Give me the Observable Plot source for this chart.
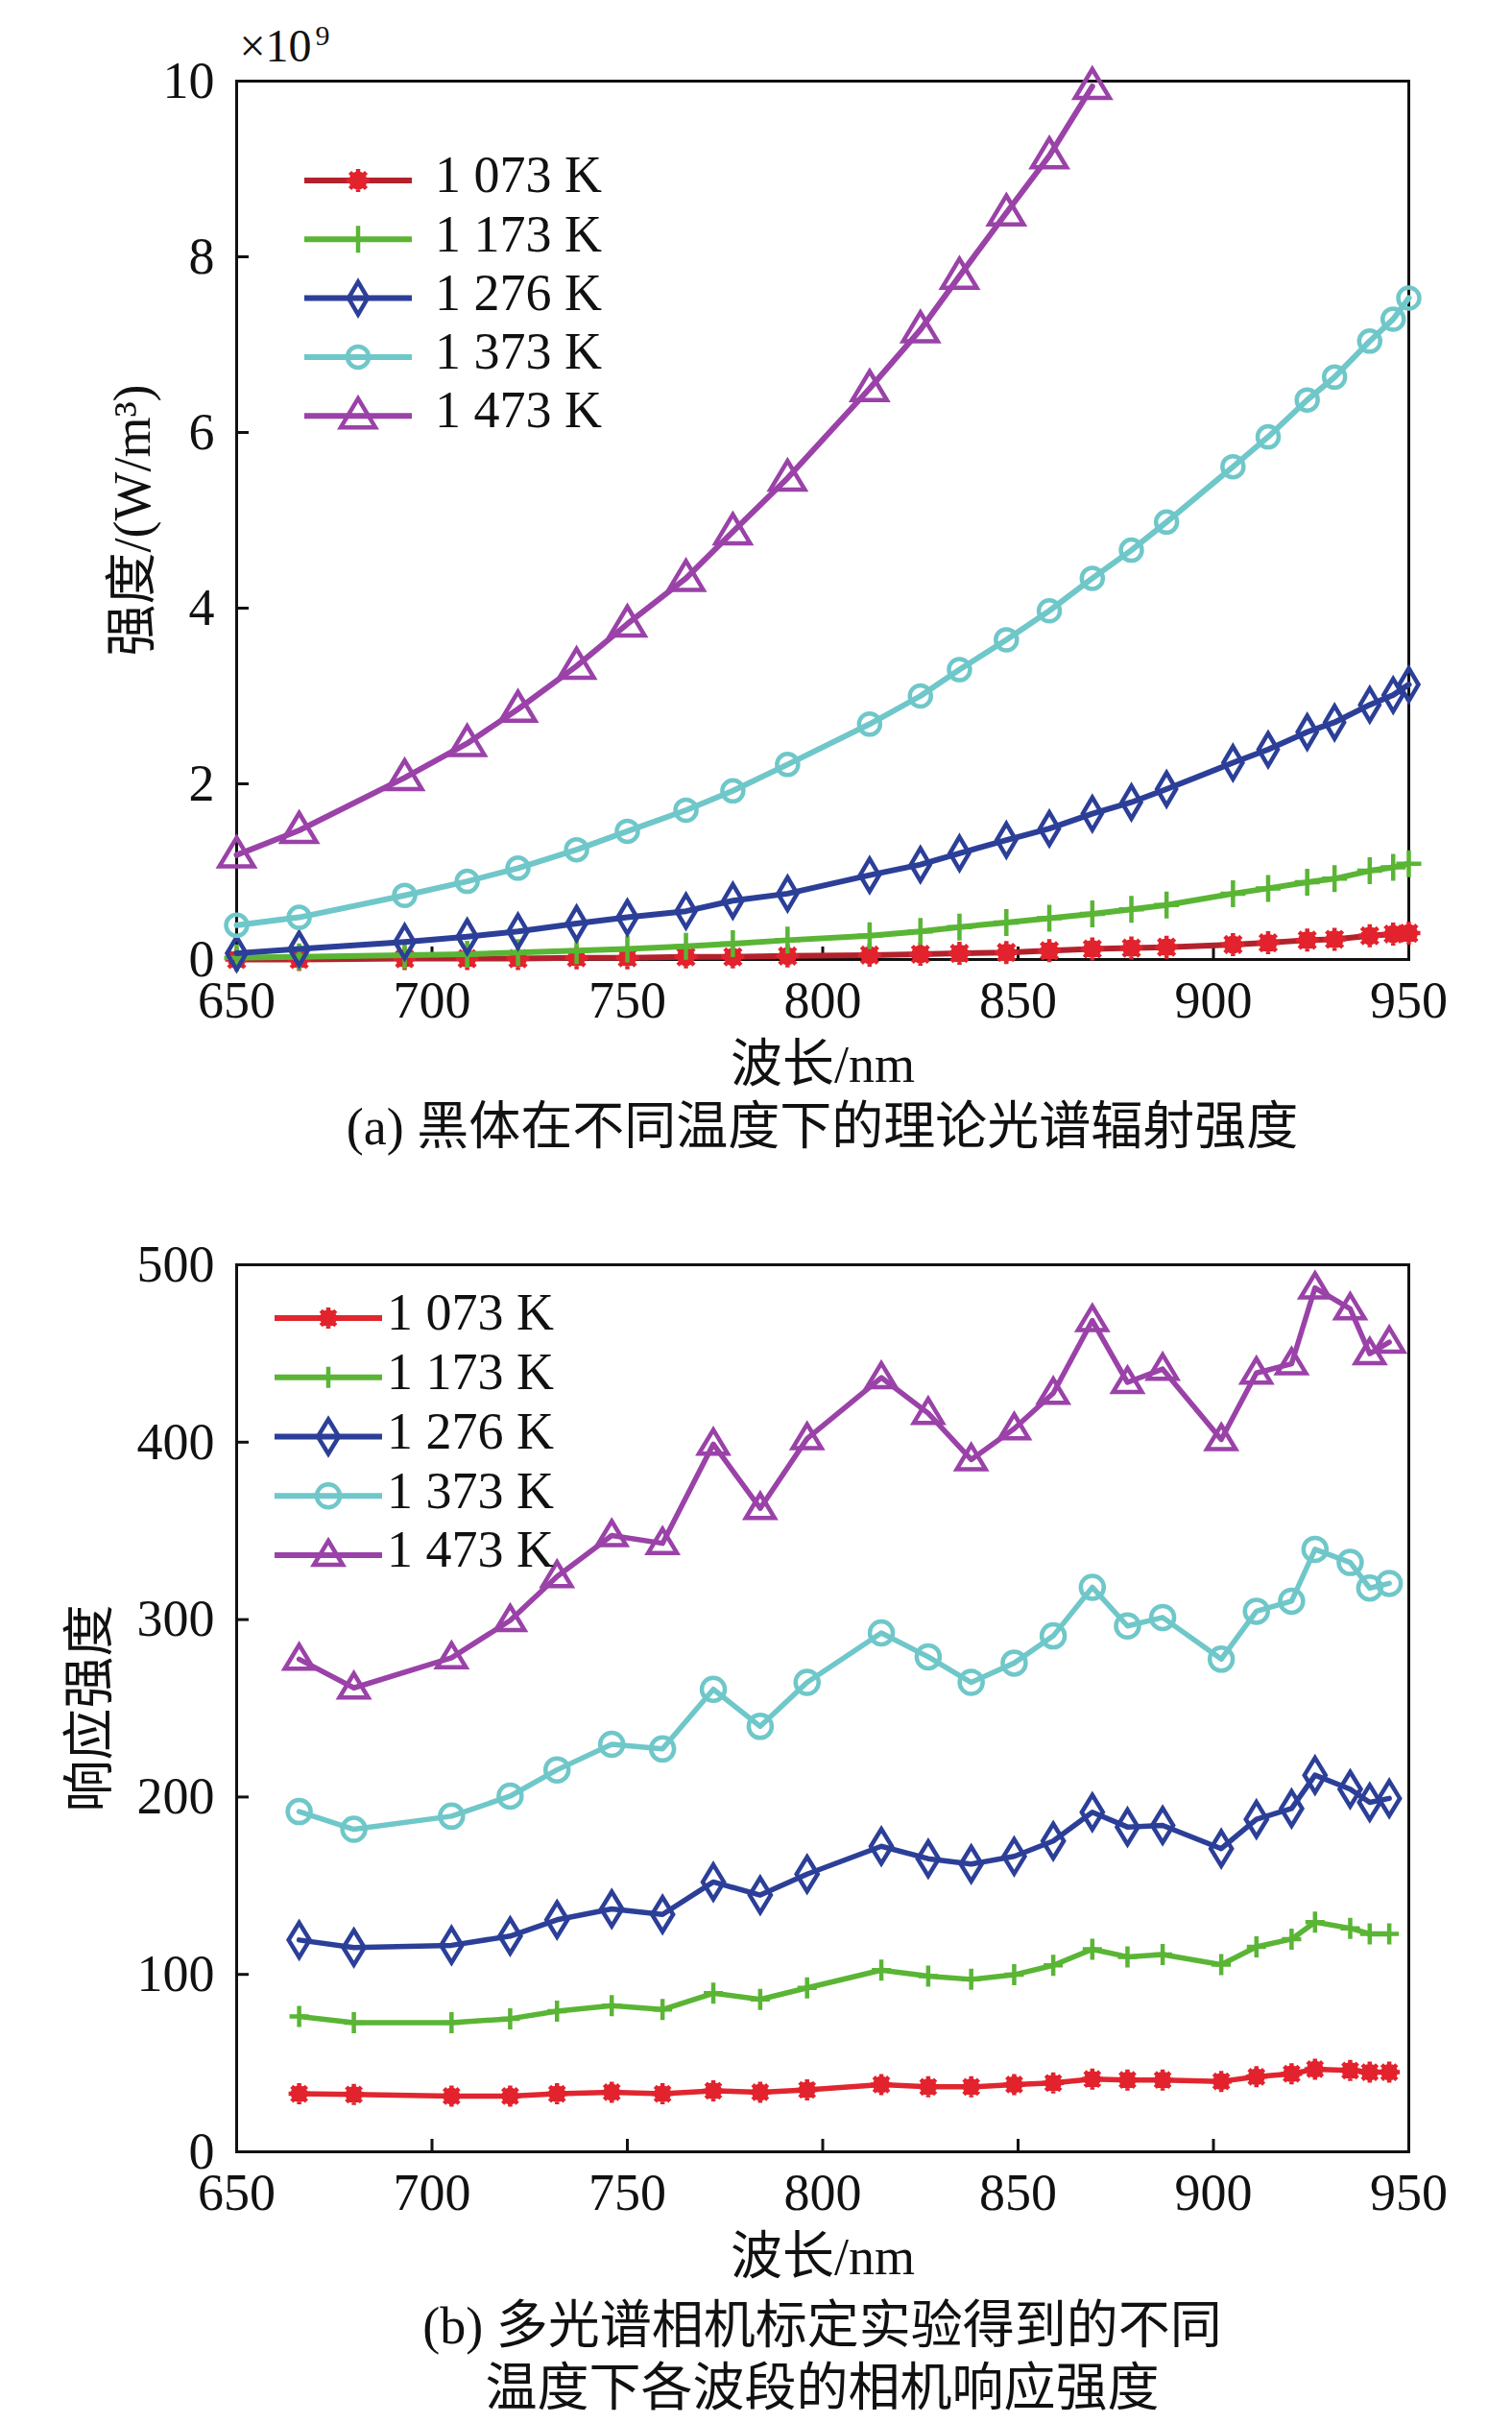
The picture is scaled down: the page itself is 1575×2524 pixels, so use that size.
<!DOCTYPE html>
<html><head><meta charset="utf-8">
<script src="https://cdn.jsdelivr.net/npm/d3@7"></script>
<script src="https://cdn.jsdelivr.net/npm/@observablehq/plot@0.6"></script>
<style>
html,body{margin:0;padding:0;background:#fff;}
#page{position:relative;width:1575px;height:2524px;overflow:hidden;background:#fff;font-family:"Liberation Serif","Noto Sans CJK SC",serif;color:#111;}
.chart{position:absolute;left:0;}
.caption{position:absolute;left:246px;width:1221px;text-align:center;font-size:54px;line-height:65px;color:#111;white-space:nowrap;}
</style></head><body><div id="page"></div>
<script>
// ---------------- data ----------------
const seriesNames = ["1 073 K", "1 173 K", "1 276 K", "1 373 K", "1 473 K"];

// (a) theoretical blackbody spectral radiance (×10^9 W/m^3)
const wlA = [650, 666, 693, 709, 722, 737, 750, 765, 777, 791, 812, 825, 835, 847, 858, 869, 879, 888, 905, 914, 924, 931, 940, 946, 950];
const a1073 = [0.00, 0.00, 0.01, 0.01, 0.01, 0.02, 0.02, 0.03, 0.03, 0.04, 0.05, 0.06, 0.07, 0.08, 0.10, 0.12, 0.13, 0.14, 0.17, 0.19, 0.22, 0.23, 0.27, 0.29, 0.30];
const a1173 = [0.02, 0.03, 0.05, 0.06, 0.08, 0.10, 0.12, 0.15, 0.18, 0.22, 0.27, 0.32, 0.37, 0.42, 0.47, 0.52, 0.57, 0.62, 0.75, 0.81, 0.88, 0.92, 1.01, 1.05, 1.09];
const a1276 = [0.07, 0.12, 0.20, 0.26, 0.32, 0.41, 0.48, 0.55, 0.67, 0.75, 0.96, 1.08, 1.21, 1.36, 1.49, 1.66, 1.79, 1.94, 2.24, 2.39, 2.59, 2.70, 2.90, 3.01, 3.13];
const a1373 = [0.39, 0.48, 0.73, 0.89, 1.04, 1.25, 1.46, 1.70, 1.92, 2.22, 2.68, 3.00, 3.30, 3.64, 3.97, 4.34, 4.66, 4.98, 5.61, 5.95, 6.37, 6.63, 7.04, 7.29, 7.53];
const a1473 = [1.19, 1.47, 2.07, 2.46, 2.85, 3.34, 3.82, 4.34, 4.87, 5.48, 6.50, 7.17, 7.78, 8.50, 9.15, 9.94];

// (b) camera response
const wlB = [666, 680, 705, 720, 732, 746, 759, 772, 784, 796, 815, 827, 838, 849, 859, 869, 878, 887, 902, 911, 920, 926, 935, 940, 945];
const b1073 = [32.7, 32.3, 31.4, 31.4, 32.7, 33.6, 32.7, 34.4, 33.6, 34.9, 37.9, 36.6, 36.6, 37.9, 38.8, 41.0, 40.5, 40.5, 39.7, 42.3, 44.0, 46.6, 45.8, 44.9, 44.9];
const b1173 = [76.3, 72.8, 72.8, 75.0, 79.3, 82.4, 80.2, 89.4, 85.9, 92.4, 102.4, 99.0, 97.2, 99.8, 105.1, 114.2, 109.9, 111.2, 105.5, 115.5, 119.9, 129.5, 126.0, 122.9, 122.9];
const b1276 = [119.4, 115.1, 116.4, 121.6, 130.8, 136.9, 133.8, 152.1, 144.7, 156.5, 172.2, 165.2, 162.2, 166.5, 175.2, 191.4, 183.1, 184.0, 170.9, 187.4, 193.5, 212.3, 204.4, 197.0, 199.2];
const b1373 = [191.8, 181.8, 189.2, 200.5, 215.3, 229.7, 227.1, 260.7, 239.8, 264.6, 292.5, 279.0, 264.6, 275.5, 290.8, 318.2, 296.4, 301.2, 277.7, 304.7, 310.4, 339.6, 332.2, 317.8, 320.4];
const b1473 = [277.7, 261.5, 278.5, 299.5, 324.3, 347.4, 343.0, 398.9, 362.7, 402.0, 436.4, 416.3, 390.2, 407.6, 427.6, 468.6, 433.7, 441.2, 401.5, 439.0, 444.2, 487.0, 475.2, 449.9, 456.4];

const xTicks = [650, 700, 750, 800, 850, 900, 950];
const yTicksA = [0, 2, 4, 6, 8, 10];
const yTicksB = [0, 100, 200, 300, 400, 500];

// ---------------- styles ----------------
const FONT = "Liberation Serif, Noto Sans CJK SC, serif";
const markColors = ["#e2222c", "#5ab535", "#2c3f98", "#6fc7c9", "#9a42a8"];
const lineColorsA = ["#b3222c", "#5ab535", "#2c3f98", "#6fc7c9", "#9a42a8"];
const lineColorsB = ["#e0262f", "#5ab535", "#2c3f98", "#6fc7c9", "#9a42a8"];

function star(r) {
  return {draw(ctx) {
    const c = 0.6 * r;
    ctx.moveTo(c, 0); ctx.arc(0, 0, c, 0, 2 * Math.PI);
    for (const a of [0, 45, 90, 135]) {
      const t = a * Math.PI / 180, dx = r * Math.cos(t), dy = r * Math.sin(t);
      ctx.moveTo(-dx, -dy); ctx.lineTo(dx, dy);
    }
  }};
}
function plus(w, h) { return {draw(ctx) { ctx.moveTo(-w, 0); ctx.lineTo(w, 0); ctx.moveTo(0, -h); ctx.lineTo(0, h); }}; }
function diamond(w, h) { return {draw(ctx) { ctx.moveTo(0, -h); ctx.lineTo(w, 0); ctx.lineTo(0, h); ctx.lineTo(-w, 0); ctx.closePath(); }}; }
function circle(r) { return {draw(ctx) { ctx.moveTo(r, 0); ctx.arc(0, 0, r, 0, 2 * Math.PI); }}; }
function triangle(w, h1, h2) { return {draw(ctx) { ctx.moveTo(0, -h1); ctx.lineTo(w, h2); ctx.lineTo(-w, h2); ctx.closePath(); }}; }

const symbolsA = [star(12), plus(13, 14), diamond(10, 17), circle(11), triangle(18, 18, 12)];
const symbolsB = [star(11), plus(10, 11), diamond(11, 18), circle(12), triangle(15, 15, 10)];
const fills = [true, false, false, false, false];

const page = document.getElementById("page");
const W = 1575, ML = 246, MR = W - 1467;

function makeChart(o) {
  const fw = W - ML - MR, fh = o.height - o.mt - o.mb;
  const marks = [
    Plot.frame({stroke: "#111", strokeWidth: 3}),
    Plot.tickX(xTicks.slice(1, -1), {x: d => d, insetTop: fh - 13, stroke: "#111", strokeWidth: 3}),
    Plot.tickY(o.yTicks.slice(1, -1), {y: d => d, insetRight: fw - 13, stroke: "#111", strokeWidth: 3}),
    Plot.text(xTicks, {x: d => d, text: d => String(d), frameAnchor: "bottom", textAnchor: "middle", dy: 43, lineAnchor: "middle", fontSize: 54, fill: "#111"}),
    Plot.text(o.yTicks, {y: d => d, text: d => String(d), frameAnchor: "left", textAnchor: "end", dx: -23, lineAnchor: "middle", fontSize: 54, fill: "#111"}),
    Plot.text(["波长/nm"], {frameAnchor: "bottom", textAnchor: "middle", dy: 110, lineAnchor: "middle", fontSize: 54, fill: "#111"}),
    Plot.text([o.yLabel], {frameAnchor: "left", textAnchor: "middle", dx: o.yLabelDx, rotate: -90, lineAnchor: "middle", fontSize: 54, fill: "#111"}),
    ...(o.extra || [])
  ];
  o.series.forEach((vals, k) => {
    const rows = vals.map((v, i) => ({x: o.xs[i], y: v}));
    marks.push(Plot.line(rows, {x: "x", y: "y", stroke: o.lineColors[k], strokeWidth: o.lw, strokeLinejoin: "round"}));
    marks.push(Plot.dot(rows, {x: "x", y: "y", symbol: o.symbols[k], r: 10, stroke: markColors[k], strokeWidth: o.mw,
      fill: fills[k] ? markColors[k] : "none"}));
  });
  const svg = Plot.plot({
    width: W, height: o.height,
    marginTop: o.mt, marginBottom: o.mb, marginLeft: ML, marginRight: MR,
    x: {domain: [650, 950], axis: null},
    y: {domain: o.yDomain, axis: null},
    style: {fontFamily: FONT, background: "white", overflow: "visible", color: "#111"},
    marks
  });
  // legend
  const g = d3.select(svg).append("g").attr("text-anchor", "start");
  seriesNames.forEach((name, k) => {
    const y = o.leg.y0 + k * o.leg.dy;
    g.append("line").attr("x1", o.leg.x0).attr("x2", o.leg.x1).attr("y1", y).attr("y2", y)
      .attr("stroke", o.lineColors[k]).attr("stroke-width", 6);
    g.append("path").attr("transform", `translate(${(o.leg.x0 + o.leg.x1) / 2},${y})`)
      .attr("d", d3.symbol(o.symbols[k])())
      .attr("stroke", markColors[k]).attr("stroke-width", o.mw)
      .attr("fill", fills[k] ? markColors[k] : "none");
    g.append("text").attr("x", o.leg.xt).attr("y", y - 5).attr("dy", "0.32em")
      .attr("text-anchor", "start")
      .attr("font-size", 54).attr("font-family", FONT).attr("fill", "#111").text(name);
  });
  const div = document.createElement("div");
  div.className = "chart";
  div.style.top = o.top + "px";
  div.appendChild(svg);
  page.appendChild(div);
}

makeChart({
  top: 0, height: 1135, mt: 84, mb: 136,
  xs: wlA, series: [a1073, a1173, a1276, a1373, a1473],
  yDomain: [0, 10], yTicks: yTicksA, yLabel: "强度/(W/m³)", yLabelDx: -108,
  lineColors: lineColorsA, symbols: symbolsA, lw: 6, mw: 4.5,
  leg: {x0: 317, x1: 429, xt: 453, y0: 188, dy: 61.3},
  extra: [
    Plot.text(["×10"], {frameAnchor: "top-left", textAnchor: "start", dx: 3, dy: -36, lineAnchor: "middle", fontSize: 48, fill: "#111"}),
    Plot.text(["9"], {frameAnchor: "top-left", textAnchor: "start", dx: 82, dy: -47, lineAnchor: "middle", fontSize: 30, fill: "#111"})
  ]
});

makeChart({
  top: 1250, height: 1160, mt: 67, mb: 169,
  xs: wlB, series: [b1073, b1173, b1276, b1373, b1473],
  yDomain: [0, 500], yTicks: yTicksB, yLabel: "响应强度", yLabelDx: -152,
  lineColors: lineColorsB, symbols: symbolsB, lw: 5.5, mw: 4.5,
  leg: {x0: 286, x1: 398, xt: 403, y0: 123, dy: 61.75}
});

function caption(top, lines) {
  const d = document.createElement("div");
  d.className = "caption";
  d.style.top = top + "px";
  d.innerHTML = lines.join("<br>");
  page.appendChild(d);
}
caption(1142, ["(a) 黑体在不同温度下的理论光谱辐射强度"]);
caption(2391, ["(b) 多光谱相机标定实验得到的不同", "温度下各波段的相机响应强度"]);
</script></body></html>
